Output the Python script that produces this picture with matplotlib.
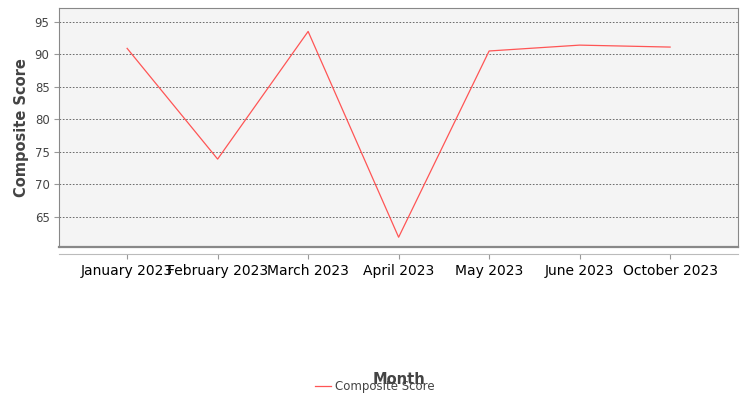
import matplotlib
matplotlib.use("Agg")
import matplotlib.pyplot as plt

months = ["January 2023", "February 2023", "March 2023", "April 2023", "May 2023", "June 2023", "October 2023"]
scores = [90.9, 73.9, 93.5, 61.9, 90.5, 91.4, 91.1]

fig = plt.figure(figsize=(7.5, 4), dpi=100)
ax = fig.add_axes([0.079, 0.3825, 0.905, 0.5975])
ax.set_facecolor("#f4f4f4")
x = list(range(len(months)))
ax.plot(x, scores, color="#ff5555", lw=0.9, label="Composite Score")
ax.set_xlim(-0.75, 6.75)
ax.set_ylim(60.4, 97.1)
ax.set_yticks([65, 70, 75, 80, 85, 90, 95])
ax.set_xticks(x)
ax.set_xticklabels(months, rotation=90, fontsize=8.5, color="#444444")
ax.tick_params(axis="y", labelsize=8.5, labelcolor="#444444", color="#999999")
ax.tick_params(axis="x", color="#999999", pad=4)
ax.grid(axis="y", color="#555555", ls=(0, (2, 2)), lw=0.6)
for s in ax.spines.values():
    s.set_color("#888888")
ax.spines["bottom"].set_position(("outward", 5))
ax.spines["bottom"].set_color("#bbbbbb")
ax.plot([0, 1], [0, 0], transform=ax.transAxes, color="#888888", lw=1.6, clip_on=False)
ax.set_ylabel("Composite Score", fontsize=10.5, fontweight="bold", color="#444444")
ax.set_xlabel("Month", fontsize=10.5, fontweight="bold", color="#444444")
ax.xaxis.set_label_coords(0.5, -0.525)
fig.legend(loc="center", bbox_to_anchor=(0.5, 0.033), frameon=False, fontsize=8.5, labelcolor="#444444", handlelength=1.3, handletextpad=0.4)
fig.savefig("out.png")
